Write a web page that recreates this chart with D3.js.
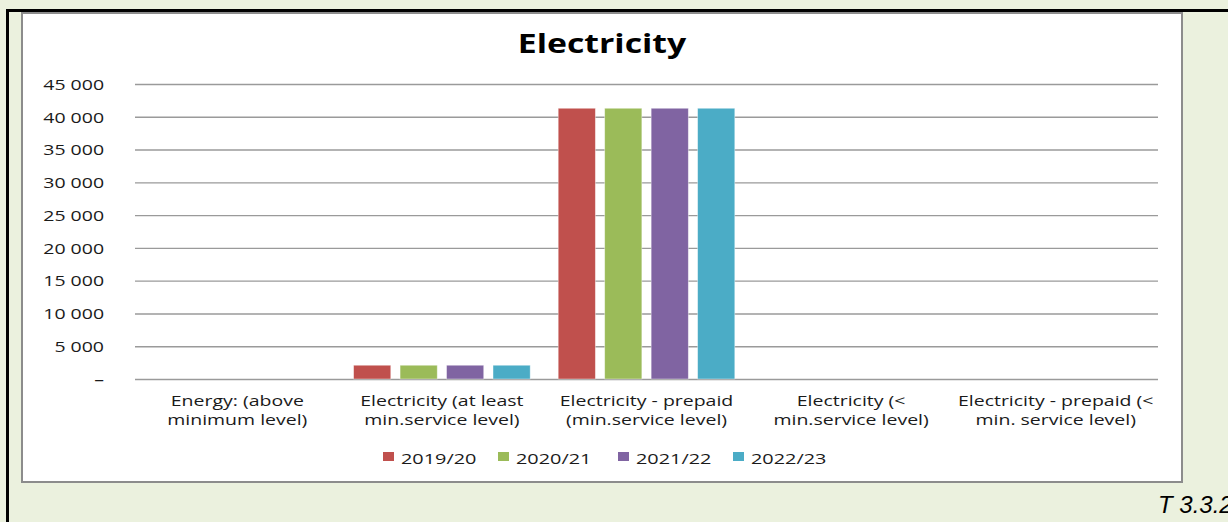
<!DOCTYPE html>
<html>
<head>
<meta charset="utf-8">
<script src="https://cdn.jsdelivr.net/npm/d3@7"></script>
<style>
  body { margin: 0; background: #EBF1DE; }
  svg { display: block; }
  text { font-family: "Open Sans", "DejaVu Sans", sans-serif; fill: #1a1a1a; }
</style>
</head>
<body>
<svg width="1228" height="522"></svg>
<script>
// categories on the x axis (two lines each)
var categories = [
  "Energy: (above\nminimum level)",
  "Electricity (at least\nmin.service level)",
  "Electricity - prepaid\n(min.service level)",
  "Electricity (<\nmin.service level)",
  "Electricity - prepaid (<\nmin. service level)"
];

var years = ["2019/20", "2020/21", "2021/22", "2022/23"];

// households per category, one array per year
var v2019 = [0, 2100, 41300, 0, 0];
var v2020 = [0, 2100, 41300, 0, 0];
var v2021 = [0, 2100, 41300, 0, 0];
var v2022 = [0, 2100, 41300, 0, 0];

var yTicks = [0, 5000, 10000, 15000, 20000, 25000, 30000, 35000, 40000, 45000];

var colors = ["#C0504D", "#9BBB59", "#8064A2", "#4BACC6"];

var series = [v2019, v2020, v2021, v2022];

var svg = d3.select("svg");

// text in the original sheet is rendered wide, stretch it horizontally
var SX = 1.3;

// page frame lines
svg.append("rect").attr("x", 6).attr("y", 9).attr("width", 1222).attr("height", 3).attr("fill", "#000");
svg.append("rect").attr("x", 6).attr("y", 9).attr("width", 3).attr("height", 513).attr("fill", "#000");

// chart area
svg.append("rect")
  .attr("x", 22).attr("y", 13)
  .attr("width", 1160).attr("height", 469)
  .attr("fill", "#fff")
  .attr("stroke", "#8c8c8c")
  .attr("stroke-width", 2);

var margin = { left: 135, right: 1158, top: 84, bottom: 379 };

var x = d3.scaleBand()
  .domain(d3.range(categories.length))
  .range([margin.left, margin.right]);

var x1 = d3.scaleBand()
  .domain(d3.range(years.length))
  .range([14, x.bandwidth() - 14])
  .paddingInner(0.2);

var y = d3.scaleLinear()
  .domain([0, 45000])
  .range([margin.bottom, margin.top]);

var locale = d3.formatLocale({ decimal: ".", thousands: " ", grouping: [3] });
var fmt = locale.format(",");

function stretched(g, px, py) {
  return g.append("g").attr("transform", "translate(" + px + "," + py + ") scale(" + SX + ",1)");
}

// title
stretched(svg, 602, 53).append("text")
  .attr("text-anchor", "middle")
  .style("font-size", "26px")
  .style("font-weight", "bold")
  .style("fill", "#000")
  .text("Electricity");

// gridlines + y labels
var yAxis = d3.axisLeft(y)
  .tickValues(yTicks)
  .tickSize(-(margin.right - margin.left))
  .tickPadding(31)
  .tickFormat(function(d) { return d === 0 ? "\u2013" : fmt(d); });

var gY = svg.append("g")
  .attr("transform", "translate(" + margin.left + ",0)")
  .call(yAxis);

gY.select(".domain").remove();
gY.selectAll(".tick line")
  .attr("stroke", "#9a9a9a")
  .attr("stroke-width", 1.4);
gY.selectAll(".tick text")
  .attr("x", -31 / SX)
  .attr("dy", "0.35em")
  .attr("transform", "scale(" + SX + ",1)")
  .style("font-size", "15px")
  .style("font-family", "'Open Sans', sans-serif")
  .style("fill", "#1a1a1a");

// bars
var groups = svg.selectAll("g.cat")
  .data(categories)
  .enter().append("g")
  .attr("class", "cat")
  .attr("transform", function(d, i) { return "translate(" + x(i) + ",0)"; });

groups.selectAll("rect")
  .data(function(d, i) { return series.map(function(s, k) { return { k: k, v: s[i] }; }); })
  .enter().append("rect")
  .attr("x", function(d) { return x1(d.k); })
  .attr("y", function(d) { return y(d.v); })
  .attr("width", x1.bandwidth())
  .attr("height", function(d) { return y(0) - y(d.v); })
  .attr("fill", function(d) { return colors[d.k]; })
  .attr("stroke", "#fff")
  .attr("stroke-opacity", 0.5)
  .attr("stroke-width", 0.8);

// category labels
categories.forEach(function(c, i) {
  var t = stretched(svg, x(i) + x.bandwidth() / 2, 406).append("text")
    .attr("text-anchor", "middle")
    .style("font-size", "15px");
  c.split("\n").forEach(function(line, j) {
    t.append("tspan").attr("x", 0).attr("y", j * 19).text(line);
  });
});

// legend
var legendX = [383, 498, 618, 733];
years.forEach(function(yr, k) {
  svg.append("rect")
    .attr("x", legendX[k]).attr("y", 452)
    .attr("width", 11).attr("height", 9)
    .attr("fill", colors[k]);
  stretched(svg, legendX[k] + 18, 464).append("text")
    .style("font-size", "15.3px")
    .text(yr);
});

// table reference
svg.append("text")
  .attr("x", 1158).attr("y", 513)
  .style("font-family", "'Liberation Sans', Arial, sans-serif")
  .style("font-style", "italic")
  .style("font-size", "24px")
  .style("fill", "#000")
  .text("T 3.3.2");
</script>
</body>
</html>
